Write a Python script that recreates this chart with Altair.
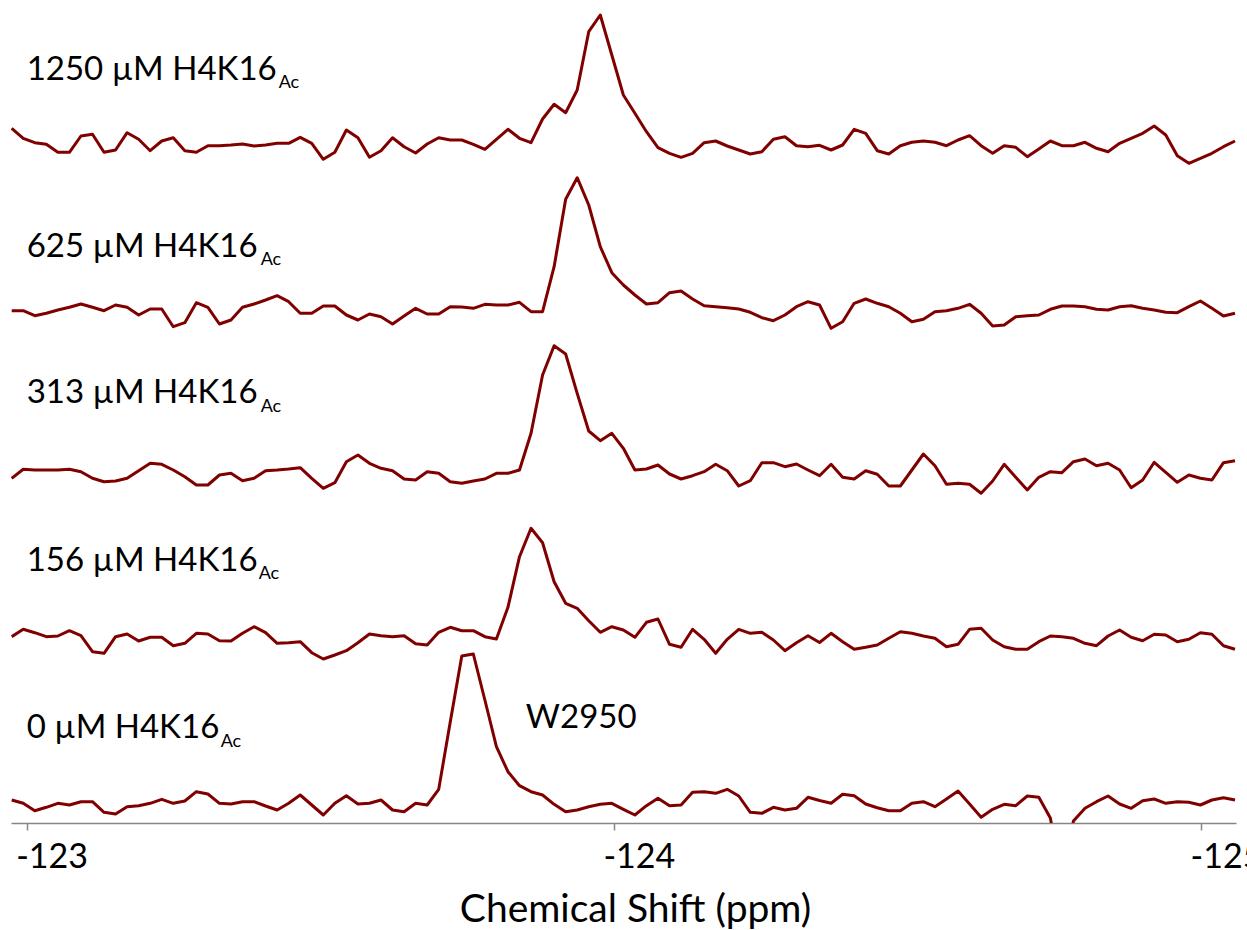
import altair as alt
import pandas as pd

# Stacked 19F NMR spectra of the W2950 resonance titrated with H4K16Ac peptide.
# All spectra share one digital grid (ppm of point i = PPM_START + i * PPM_STEP).
PPM_START = -122.9745
PPM_STEP = -0.019653

samples = ["0 µM", "156 µM", "313 µM", "625 µM", "1250 µM"]
stack_offsets = [0, 170, 335, 495, 660]

intensity_0 = [
    23.0, 19.7, 12.3, 15.7, 19.7, 18.0, 21.3, 21.3, 10.7, 9.0,
    16.3, 17.3, 19.7, 23.7, 19.7, 22.0, 31.3, 29.0, 19.7, 19.0,
    21.3, 21.3, 17.0, 13.0, 19.7, 28.0, 18.0, 8.0, 19.7, 27.3,
    19.0, 19.7, 23.0, 13.0, 11.3, 19.7, 18.0, 33.7, 101.0, 167.0,
    169.0, 123.0, 76.3, 51.3, 37.3, 31.3, 28.0, 18.7, 11.3, 13.0,
    16.3, 18.7, 19.7, 13.7, 8.0, 17.3, 24.7, 17.3, 18.0, 30.7,
    31.3, 29.7, 33.7, 27.0, 10.7, 9.7, 15.7, 13.0, 14.7, 25.7,
    22.5, 19.7, 28.7, 27.3, 19.0, 15.3, 12.3, 12.3, 19.7, 21.3,
    16.3, 24.0, 32.0, 19.0, 5.7, 13.7, 18.7, 17.3, 27.0, 25.7,
    5.0, -60.0, 2.0, 14.7, 21.3, 27.0, 19.0, 14.7, 22.3, 24.0,
    19.7, 21.3, 20.7, 18.0, 23.0, 25.3, 23.0,
]

intensity_156 = [
    16.3, 23.7, 20.3, 16.3, 17.0, 22.3, 17.3, 1.3, -0.3, 16.3,
    19.0, 12.0, 15.7, 15.7, 7.3, 9.7, 19.7, 19.0, 12.3, 12.0,
    19.7, 26.3, 20.3, 9.7, 10.3, 11.3, 0.3, -6.0, -2.0, 2.3,
    10.3, 19.0, 17.3, 16.3, 17.3, 9.3, 8.0, 20.7, 25.7, 22.3,
    22.3, 16.3, 14.0, 45.7, 96.3, 124.7, 110.3, 71.3, 49.7, 44.7,
    32.3, 20.7, 26.3, 23.0, 15.7, 30.7, 34.0, 8.7, 5.7, 23.7,
    13.7, -0.3, 13.7, 23.7, 19.7, 20.7, 13.0, 2.3, 10.3, 17.3,
    10.5, 19.7, 11.3, 3.7, 5.7, 8.0, 14.7, 21.3, 19.7, 17.0,
    14.7, 6.3, 8.7, 23.7, 24.7, 13.0, 6.3, 3.7, 3.7, 11.3,
    17.0, 16.3, 14.7, 9.7, 7.3, 17.0, 23.0, 15.7, 12.3, 18.7,
    18.0, 11.3, 13.7, 20.3, 18.7, 7.3, 3.7,
]

intensity_313 = [
    9.7, 18.7, 18.0, 18.0, 18.0, 18.7, 16.3, 9.7, 6.3, 7.0,
    9.7, 17.3, 24.7, 23.7, 18.0, 11.3, 3.0, 3.0, 13.0, 14.7,
    7.3, 9.7, 17.3, 18.0, 19.0, 20.3, 9.7, -0.3, 5.3, 26.3,
    33.0, 24.7, 19.7, 17.3, 9.0, 8.0, 16.3, 14.7, 6.3, 4.7,
    7.0, 9.0, 14.7, 14.7, 18.0, 54.7, 113.0, 142.3, 134.0, 94.7,
    57.0, 47.3, 54.7, 39.7, 18.0, 19.0, 23.0, 14.0, 9.0, 12.3,
    16.3, 23.7, 17.3, 2.0, 7.3, 25.3, 25.3, 21.3, 24.0, 18.0,
    12.3, 23.7, 10.7, 9.0, 17.3, 13.7, 2.0, 2.0, 18.0, 34.0,
    22.3, 3.7, 4.7, 3.7, -5.3, 7.0, 23.7, 10.7, -2.0, 10.7,
    16.3, 15.3, 26.3, 29.0, 22.3, 24.7, 18.0, 0.3, 8.0, 25.7,
    15.7, 5.7, 13.0, 9.7, 8.0, 25.3, 27.3,
]

intensity_625 = [
    17.3, 17.3, 12.3, 14.7, 18.0, 20.7, 24.0, 20.7, 17.3, 23.0,
    20.7, 13.0, 19.0, 19.0, 1.3, 5.3, 25.3, 20.7, 4.0, 8.0,
    20.7, 24.0, 28.0, 32.3, 26.3, 14.7, 14.7, 22.0, 22.0, 13.0,
    8.0, 14.0, 11.3, 4.0, 12.0, 19.7, 14.0, 14.0, 21.3, 21.0,
    19.7, 23.7, 23.0, 23.0, 25.7, 16.3, 16.3, 61.3, 128.7, 150.3,
    123.0, 81.3, 55.3, 43.0, 33.0, 24.0, 25.3, 35.3, 37.0, 29.0,
    22.3, 21.3, 20.3, 19.0, 15.7, 10.3, 7.3, 13.0, 21.3, 26.3,
    23.0, -0.3, 6.3, 24.7, 29.0, 24.7, 21.3, 14.7, 6.3, 8.7,
    16.3, 17.3, 19.7, 23.7, 14.7, 2.0, 3.0, 11.3, 12.3, 13.0,
    18.7, 22.0, 22.0, 21.3, 18.7, 18.0, 21.3, 22.3, 19.7, 18.0,
    15.7, 15.3, 21.3, 27.0, 19.7, 12.0, 14.7,
]

intensity_1250 = [
    34.7, 24.7, 20.3, 18.7, 10.7, 10.7, 27.0, 28.7, 10.7, 13.0,
    30.3, 23.7, 12.3, 22.0, 25.3, 12.3, 10.7, 17.3, 17.3, 18.0,
    19.0, 17.0, 18.0, 19.7, 19.7, 25.7, 19.7, 3.7, 10.7, 33.0,
    25.3, 5.7, 12.3, 25.3, 16.3, 10.0, 19.0, 25.3, 23.0, 23.0,
    18.7, 13.7, 23.7, 33.7, 24.7, 20.3, 44.0, 58.7, 50.3, 73.0,
    131.3, 148.0, 108.0, 68.0, 49.7, 31.3, 15.3, 9.7, 5.7, 9.7,
    20.3, 22.0, 17.0, 13.0, 9.0, 11.3, 23.7, 26.3, 17.3, 16.3,
    17.7, 13.0, 18.0, 33.7, 29.7, 12.3, 9.0, 17.3, 20.7, 22.0,
    20.7, 17.3, 23.0, 27.3, 17.3, 9.7, 17.3, 15.7, 6.3, 14.0,
    22.0, 17.3, 17.3, 20.7, 14.7, 11.3, 19.7, 24.7, 29.7, 37.0,
    28.0, 7.3, -0.3, 4.7, 9.7, 16.3, 22.0,
]

spectra = [intensity_0, intensity_156, intensity_313, intensity_625, intensity_1250]

# Label text, anchored at -123 ppm, one per spectrum
label_main = ["0 µM H4K16", "156 µM H4K16", "313 µM H4K16", "625 µM H4K16", "1250 µM H4K16"]
label_sub = "Ac"
label_levels = [84.7, 252.0, 419.7, 566.3, 743.0]
label_ppm = -123.0
sub_shift = [194, 232, 234, 234, 252]

peak_name = "W2950"
peak_name_ppm = -123.85
peak_name_level = 94.7

LINE_COLOR = "#800000"
AXIS_GREY = "#868686"
FONT = "Lato"

rows = []
for name, offset, values in zip(samples, stack_offsets, spectra):
    for i, v in enumerate(values):
        rows.append({"sample": name, "ppm": PPM_START + i * PPM_STEP, "stacked": v + offset})
spectra_df = pd.DataFrame(rows)

x_axis = alt.Axis(
    values=[-123, -124, -125],
    labelExpr="'-' + abs(datum.value)",
    grid=False,
    domainColor=AXIS_GREY,
    domainWidth=1.5,
    tickColor=AXIS_GREY,
    tickWidth=1.5,
    tickSize=7,
    labelFont=FONT,
    labelFontSize=34,
    labelColor="black",
    labelAlign="left",
    labelBaseline="top",
    labelOffset=-11,
    labelPadding=10,
    labelFlush=False,
    labelOverlap=False,
    title="Chemical Shift (ppm)",
    titleFont=FONT,
    titleFontSize=39,
    titleFontWeight="normal",
    titleColor="black",
    titleAlign="center",
    titleBaseline="alphabetic",
    titleX=624,
    titleY=98.7,
)

X = alt.X("ppm:Q", scale=alt.Scale(domain=[-125.0594, -122.9733], reverse=True, nice=False, zero=False), axis=x_axis)
Y = alt.Y("stacked:Q", scale=alt.Scale(domain=[0, 823], nice=False, zero=False), axis=None)

lines = alt.Chart(spectra_df).mark_line(
    color=LINE_COLOR, strokeWidth=3, clip=True, strokeJoin="round"
).encode(x=X, y=Y, detail="sample:N")

labels_df = pd.DataFrame({"ppm": [label_ppm] * len(label_main), "stacked": label_levels, "main": label_main})
main_text = alt.Chart(labels_df).mark_text(
    align="left", baseline="alphabetic", font=FONT, fontSize=33, color="black"
).encode(x=X, y=Y, text="main:N")

sub_layers = []
for level, shift in zip(label_levels, sub_shift):
    sub_df = pd.DataFrame({"ppm": [label_ppm], "stacked": [level], "sub": [label_sub]})
    sub_layers.append(
        alt.Chart(sub_df).mark_text(
            align="left", baseline="alphabetic", font=FONT, fontSize=18, color="black", dx=shift, dy=8.3
        ).encode(x=X, y=Y, text="sub:N")
    )

peak_df = pd.DataFrame({"ppm": [peak_name_ppm], "stacked": [peak_name_level], "name": [peak_name]})
peak_text = alt.Chart(peak_df).mark_text(
    align="left", baseline="alphabetic", font=FONT, fontSize=33, color="black"
).encode(x=X, y=Y, text="name:N")

chart = alt.layer(lines, main_text, *sub_layers, peak_text).properties(
    width=1225,
    height=823,
    autosize=alt.AutoSizeParams(type="none"),
    padding={"left": 11, "top": 0, "right": 11, "bottom": 107},
    background="white",
).configure_view(stroke=None)

chart.save("out.html", embed_options={"renderer": "svg", "actions": False})
